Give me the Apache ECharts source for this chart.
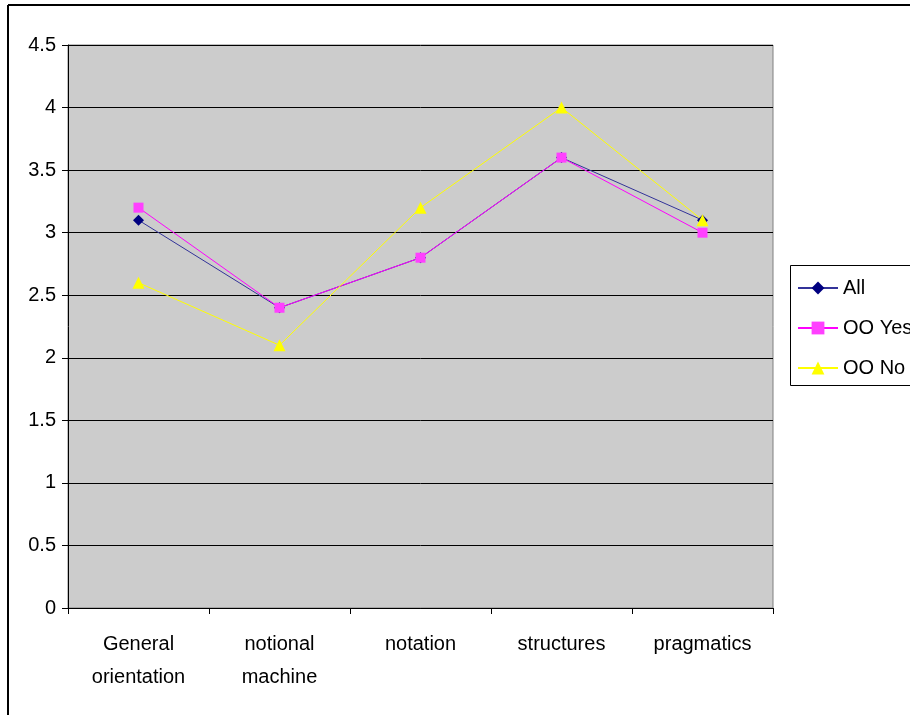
<!DOCTYPE html>
<html>
<head>
<meta charset="utf-8">
<script src="https://cdn.jsdelivr.net/npm/echarts@6/dist/echarts.min.js"></script>
<style>
  html, body { margin: 0; padding: 0; background: #fff; }
  #chart { width: 910px; height: 715px; }
</style>
</head>
<body>
<div id="chart"></div>
<script>
// Categories along the x axis (two-line labels)
var categories = ['General\norientation', 'notional\nmachine', 'notation', 'structures', 'pragmatics'];

// Mean scores per group
var allValues   = [3.1, 2.4, 2.8, 3.6, 3.1];
var ooYesValues = [3.2, 2.4, 2.8, 3.6, 3.0];
var ooNoValues  = [2.6, 2.1, 3.2, 4.0, 3.1];

// Value axis range
var yMin = 0, yMax = 4.5, yStep = 0.5;

var FONT = 'Liberation Sans, Arial, sans-serif';

var chart = echarts.init(document.getElementById('chart'), null, { renderer: 'canvas' });

chart.setOption({
  animation: false,
  backgroundColor: '#ffffff',
  grid: {
    left: 68, right: 137, top: 45, bottom: 107,
    show: true,
    backgroundColor: '#cccccc',
    borderColor: '#808080',
    borderWidth: 1
  },
  legend: {
    orient: 'vertical',
    left: 797,
    top: 278,
    itemWidth: 40,
    itemHeight: 16,
    itemGap: 20,
    padding: 0,
    textStyle: { fontFamily: FONT, fontSize: 20, color: '#000' },
    data: ['All', 'OO Yes', 'OO No']
  },
  graphic: [
    // outer frame (top and left edges)
    { type: 'line', shape: { x1: 8, y1: 5, x2: 910, y2: 5 }, style: { stroke: '#000', lineWidth: 2 } },
    { type: 'line', shape: { x1: 8, y1: 5, x2: 8, y2: 715 }, style: { stroke: '#000', lineWidth: 2 } },
    // legend frame
    { type: 'rect', shape: { x: 790.5, y: 265.5, width: 140, height: 120 }, style: { fill: null, stroke: '#000', lineWidth: 1 }, z: 10 }
  ],
  xAxis: {
    type: 'category',
    data: categories,
    boundaryGap: true,
    axisLine: { show: true, lineStyle: { color: '#000', width: 1 } },
    axisTick: { show: true, alignWithLabel: false, length: 6, lineStyle: { color: '#000' } },
    axisLabel: {
      fontFamily: FONT, fontSize: 20, color: '#000',
      lineHeight: 33, margin: 20, interval: 0
    },
    splitLine: { show: false }
  },
  yAxis: {
    type: 'value',
    min: yMin, max: yMax, interval: yStep,
    axisLine: { show: true, lineStyle: { color: '#000', width: 1 } },
    axisTick: { show: true, length: 6, lineStyle: { color: '#000' } },
    axisLabel: { fontFamily: FONT, fontSize: 20, color: '#000', margin: 12 },
    splitLine: { show: true, lineStyle: { color: '#000', width: 1 } }
  },
  series: [
    {
      name: 'All', type: 'line', data: allValues,
      symbol: 'diamond', symbolSize: 11,
      itemStyle: { color: '#000080' },
      lineStyle: { color: '#333399', width: 1 }
    },
    {
      name: 'OO Yes', type: 'line', data: ooYesValues,
      symbol: 'rect', symbolSize: 10,
      itemStyle: { color: '#ff40ff' },
      lineStyle: { color: '#ff00ff', width: 1 }
    },
    {
      name: 'OO No', type: 'line', data: ooNoValues,
      symbol: 'triangle', symbolSize: 12,
      itemStyle: { color: '#ffff00' },
      lineStyle: { color: '#ffff00', width: 1 }
    }
  ]
});
</script>
</body>
</html>
